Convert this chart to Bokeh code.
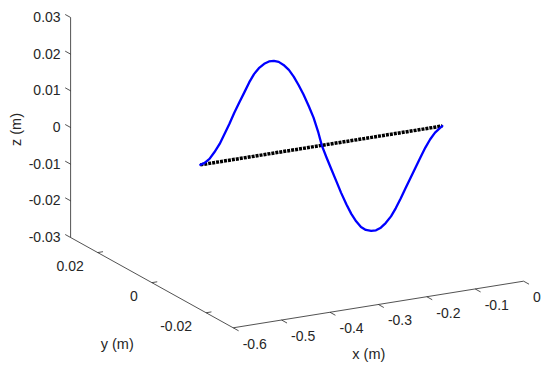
import math
from bokeh.plotting import figure
from bokeh.models import Range1d
from bokeh.core.properties import value
from bokeh.embed import file_html
from bokeh.resources import INLINE

# ---- data ----
x_ticks = [-0.6, -0.5, -0.4, -0.3, -0.2, -0.1, 0.0]
x_tick_labels = ["-0.6", "-0.5", "-0.4", "-0.3", "-0.2", "-0.1", "0"]
y_ticks = [-0.02, 0.0, 0.02]
y_tick_labels = ["-0.02", "0", "0.02"]
z_ticks = [-0.03, -0.02, -0.01, 0.0, 0.01, 0.02, 0.03]
z_tick_labels = ["-0.03", "-0.02", "-0.01", "0", "0.01", "0.02", "0.03"]

# deformed shape (blue)
beam_x = [-0.5, -0.491, -0.481, -0.471, -0.460, -0.450, -0.440, -0.430, -0.420,
          -0.409, -0.399, -0.389, -0.379, -0.368, -0.358, -0.348, -0.338, -0.328,
          -0.317, -0.307, -0.297, -0.287, -0.276, -0.266, -0.256, -0.249,
          -0.239, -0.229, -0.219, -0.209, -0.198, -0.188, -0.178, -0.168, -0.158,
          -0.147, -0.137, -0.127, -0.117, -0.106, -0.096, -0.086, -0.076, -0.066,
          -0.055, -0.045, -0.035, -0.025, -0.015, -0.005, 0.0]
beam_z = [0.0, 0.00035, 0.00122, 0.00282, 0.00487, 0.00737, 0.00987, 0.01265, 0.01516,
          0.01784, 0.02035, 0.0224, 0.02381, 0.02477, 0.02519, 0.02514, 0.02465, 0.02361,
          0.02202, 0.01998, 0.01749, 0.01472, 0.01131, 0.00791, 0.0036, 0.0,
          -0.00359, -0.00699, -0.0104, -0.0138, -0.0172, -0.01997, -0.0222, -0.02396, -0.025,
          -0.0255, -0.02554, -0.02503, -0.02398, -0.02239, -0.02034, -0.01792, -0.01533, -0.01282,
          -0.01005, -0.00754, -0.00513, -0.00308, -0.00148, -0.00049, 0.0]
beam_y = [0.0] * len(beam_x)

# undeformed beam (black dotted)
rest_x = [-0.5, 0.0]
rest_y = [0.0, 0.0]
rest_z = [0.0, 0.0]

xlim = (-0.6, 0.0)
ylim = (-0.03, 0.03)
zlim = (-0.03, 0.03)

# ---- orthographic projection (image pixels, y down) ----
C = (232.7, 327.3)          # pixel of (xmin, ymin, zmin)
EX = (484.0, -77.7)         # pixels per unit x
EY = (-2710.0, -1505.0)     # pixels per unit y
EZ = (0.0, -3667.0)         # pixels per unit z
W, H = 550, 367


def proj(X, Y, Z):
    dx, dy, dz = X - xlim[0], Y - ylim[0], Z - zlim[0]
    px = C[0] + dx * EX[0] + dy * EY[0] + dz * EZ[0]
    py = C[1] + dx * EX[1] + dy * EY[1] + dz * EZ[1]
    return px, H - py


def proj_many(xs, ys, zs):
    pts = [proj(a, b, c) for a, b, c in zip(xs, ys, zs)]
    return [q[0] for q in pts], [q[1] for q in pts]


p = figure(width=W, height=H, output_backend="svg", toolbar_location=None,
           x_range=Range1d(0, W), y_range=Range1d(0, H),
           x_axis_type=None, y_axis_type=None, min_border=0)
p.grid.visible = False
p.outline_line_color = None
p.background_fill_color = "white"

AX = "#262626"
AXW = 0.8
FONT = value("Liberation Sans")
TFS = value("14px")
LFS = value("14.5px")

# axis lines
for a, b in [((xlim[0], ylim[0], zlim[0]), (xlim[1], ylim[0], zlim[0])),
             ((xlim[0], ylim[0], zlim[0]), (xlim[0], ylim[1], zlim[0])),
             ((xlim[0], ylim[1], zlim[0]), (xlim[0], ylim[1], zlim[1]))]:
    xs, ys = proj_many([a[0], b[0]], [a[1], b[1]], [a[2], b[2]])
    p.line(xs, ys, line_color=AX, line_width=AXW)

# x ticks (direction -y)
xs0, xs1, ys0, ys1 = [], [], [], []
for t in x_ticks:
    a = proj(t, ylim[0], zlim[0]); b = proj(t, ylim[0] - 0.002, zlim[0])
    xs0.append(a[0]); ys0.append(a[1]); xs1.append(b[0]); ys1.append(b[1])
p.segment(xs0, ys0, xs1, ys1, line_color=AX, line_width=AXW)
lx = [q + 9.5 for q in xs0]
ly = [q - 16 for q in ys0]
p.text(lx, ly, text=x_tick_labels, text_font=FONT, text_font_size=TFS,
       text_color=AX, text_align="left", text_baseline="middle")

# y ticks (direction +x)
xs0, xs1, ys0, ys1 = [], [], [], []
for t in y_ticks:
    a = proj(xlim[0], t, zlim[0]); b = proj(xlim[0] + 0.011, t, zlim[0])
    xs0.append(a[0]); ys0.append(a[1]); xs1.append(b[0]); ys1.append(b[1])
p.segment(xs0, ys0, xs1, ys1, line_color=AX, line_width=AXW)
lx = [q - 14 for q in xs0]
ly = [q - 13.5 for q in ys0]
p.text(lx, ly, text=y_tick_labels, text_font=FONT, text_font_size=TFS,
       text_color=AX, text_align="right", text_baseline="middle")

# z ticks (direction +y)
xs0, xs1, ys0, ys1 = [], [], [], []
for t in z_ticks:
    a = proj(xlim[0], ylim[1], t); b = proj(xlim[0], ylim[1] + 0.002, t)
    xs0.append(a[0]); ys0.append(a[1]); xs1.append(b[0]); ys1.append(b[1])
p.segment(xs0, ys0, xs1, ys1, line_color=AX, line_width=AXW)
lx = [q - 10 for q in xs0]
ly = [q + 0.5 for q in ys0]
p.text(lx, ly, text=z_tick_labels, text_font=FONT, text_font_size=TFS,
       text_color=AX, text_align="right", text_baseline="middle")

# axis labels
p.text([368.3], [H - 353.3], text=["x (m)"], text_font=FONT, text_font_size=LFS,
       text_color=AX, text_align="center", text_baseline="middle")
p.text([116.7], [H - 343.3], text=["y (m)"], text_font=FONT, text_font_size=LFS,
       text_color=AX, text_align="center", text_baseline="middle")
p.text([15.0], [H - 129.0], text=["z (m)"], text_font=FONT, text_font_size=LFS,
       text_color=AX, text_align="center", text_baseline="middle", angle=math.pi / 2)

# data
rx, ry = proj_many(rest_x, rest_y, rest_z)
p.line(rx, ry, line_color="black", line_width=3.5, line_dash="3 1", line_cap="butt")
bx, by = proj_many(beam_x, beam_y, beam_z)
p.line(bx, by, line_color="#0000FF", line_width=2.3, line_join="round", line_cap="round")

open("out.html", "w").write(file_html(p, INLINE))
